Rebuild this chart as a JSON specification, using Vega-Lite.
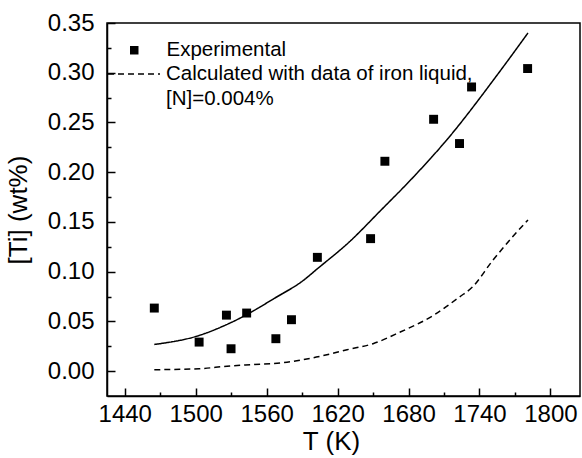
{
  "$schema": "https://vega.github.io/schema/vega-lite/v6.json",
  "width": 473,
  "height": 373,
  "autosize": {"type": "none"},
  "padding": {"left": 107, "top": 23, "right": 2, "bottom": 62},
  "background": "white",
  "config": {
    "view": {"stroke": "black", "strokeWidth": 1.5},
    "font": "Liberation Sans",
    "axis": {
      "labelFont": "Liberation Sans",
      "titleFont": "Liberation Sans",
      "labelColor": "black",
      "titleColor": "black",
      "titleFontWeight": "normal",
      "domainColor": "black",
      "tickColor": "black",
      "grid": false,
      "labelFontSize": 24,
      "titleFontSize": 26
    },
    "legend": {
      "labelFont": "Liberation Sans",
      "labelColor": "black",
      "labelFontSize": 20.5,
      "labelLimit": 600
    }
  },
  "datasets": {
    "exp": [
      {"T": 1465.0, "Ti": 0.0634, "kind": "Experimental"},
      {"T": 1502.9, "Ti": 0.0292, "kind": "Experimental"},
      {"T": 1526.0, "Ti": 0.0563, "kind": "Experimental"},
      {"T": 1529.9, "Ti": 0.0225, "kind": "Experimental"},
      {"T": 1543.1, "Ti": 0.0584, "kind": "Experimental"},
      {"T": 1567.8, "Ti": 0.0326, "kind": "Experimental"},
      {"T": 1581.0, "Ti": 0.0517, "kind": "Experimental"},
      {"T": 1602.9, "Ti": 0.1144, "kind": "Experimental"},
      {"T": 1647.9, "Ti": 0.1332, "kind": "Experimental"},
      {"T": 1660.0, "Ti": 0.2110, "kind": "Experimental"},
      {"T": 1701.2, "Ti": 0.2532, "kind": "Experimental"},
      {"T": 1723.1, "Ti": 0.2288, "kind": "Experimental"},
      {"T": 1733.3, "Ti": 0.2857, "kind": "Experimental"},
      {"T": 1780.7, "Ti": 0.3042, "kind": "Experimental"}
    ],
    "curves": [
      {"T": 1465, "Ti": 0.0268, "curve": "fit"},
      {"T": 1503, "Ti": 0.0359, "curve": "fit"},
      {"T": 1526, "Ti": 0.0467, "curve": "fit"},
      {"T": 1543, "Ti": 0.0567, "curve": "fit"},
      {"T": 1566, "Ti": 0.0728, "curve": "fit"},
      {"T": 1591, "Ti": 0.0912, "curve": "fit"},
      {"T": 1603, "Ti": 0.1030, "curve": "fit"},
      {"T": 1630, "Ti": 0.1300, "curve": "fit"},
      {"T": 1656, "Ti": 0.1610, "curve": "fit"},
      {"T": 1684, "Ti": 0.1950, "curve": "fit"},
      {"T": 1712, "Ti": 0.2320, "curve": "fit"},
      {"T": 1757, "Ti": 0.3010, "curve": "fit"},
      {"T": 1781, "Ti": 0.3400, "curve": "fit"},
      {"T": 1465, "Ti": 0.0014, "curve": "calc"},
      {"T": 1503, "Ti": 0.0024, "curve": "calc"},
      {"T": 1526.5, "Ti": 0.0050, "curve": "calc"},
      {"T": 1549, "Ti": 0.0067, "curve": "calc"},
      {"T": 1574, "Ti": 0.0085, "curve": "calc"},
      {"T": 1602, "Ti": 0.0141, "curve": "calc"},
      {"T": 1628, "Ti": 0.0215, "curve": "calc"},
      {"T": 1650, "Ti": 0.0276, "curve": "calc"},
      {"T": 1673, "Ti": 0.0393, "curve": "calc"},
      {"T": 1701, "Ti": 0.0560, "curve": "calc"},
      {"T": 1723, "Ti": 0.0745, "curve": "calc"},
      {"T": 1734, "Ti": 0.0845, "curve": "calc"},
      {"T": 1751, "Ti": 0.1110, "curve": "calc"},
      {"T": 1768, "Ti": 0.1350, "curve": "calc"},
      {"T": 1781, "Ti": 0.1520, "curve": "calc"}
    ]
  },
  "resolve": {"axis": {"x": "independent", "y": "independent"}},
  "layer": [
    {
      "data": {"name": "curves"},
      "mark": {"type": "line", "color": "black", "strokeWidth": 1.5, "interpolate": "monotone"},
      "encoding": {
        "x": {
          "field": "T",
          "type": "quantitative",
          "scale": {"domain": [1425, 1825], "nice": false, "zero": false},
          "axis": {
            "orient": "bottom",
            "title": "T (K)",
            "values": [1440, 1500, 1560, 1620, 1680, 1740, 1800],
            "format": "d",
            "tickSize": -8,
            "tickWidth": 1.5,
            "domainWidth": 1.5,
            "labelPadding": 14,
            "titlePadding": 2,
            "titleX": 224
          }
        },
        "y": {
          "field": "Ti",
          "type": "quantitative",
          "scale": {"domain": [-0.025, 0.35], "nice": false, "zero": false},
          "axis": {
            "orient": "left",
            "title": "[Ti] (wt%)",
            "values": [0, 0.05, 0.1, 0.15, 0.2, 0.25, 0.3, 0.35],
            "format": ".2f",
            "tickSize": -8,
            "tickWidth": 1.5,
            "domainWidth": 1.5,
            "labelPadding": 21,
            "titlePadding": 16
          }
        },
        "strokeDash": {
          "field": "curve",
          "type": "nominal",
          "scale": {"domain": ["fit", "calc"], "range": [[1, 0], [6, 4]]},
          "legend": {
            "values": ["calc"],
            "title": null,
            "orient": "none",
            "legendX": 0,
            "legendY": 24,
            "padding": 0,
            "symbolType": "stroke",
            "symbolSize": 2704,
            "symbolStrokeColor": "black",
            "symbolStrokeWidth": 1.3,
            "symbolDash": [6, 5],
            "labelOffset": 5,
            "labelExpr": "datum.label == 'calc' ? ['Calculated with data of iron liquid,', '[N]=0.004%'] : datum.label",
            "encode": {"labels": {"update": {"lineHeight": {"value": 25}}}}
          }
        }
      }
    },
    {
      "data": {"name": "exp"},
      "mark": {"type": "point", "shape": "square", "filled": true, "color": "black", "size": 80, "opacity": 1},
      "encoding": {
        "x": {
          "field": "T",
          "type": "quantitative",
          "axis": {
            "orient": "bottom",
            "title": null,
            "values": [1470, 1530, 1590, 1650, 1710, 1770],
            "labels": false,
            "domain": false,
            "tickSize": -4,
            "tickWidth": 1.5
          }
        },
        "y": {
          "field": "Ti",
          "type": "quantitative",
          "axis": {
            "orient": "left",
            "title": null,
            "values": [0.025, 0.075, 0.125, 0.175, 0.225, 0.275, 0.325],
            "labels": false,
            "domain": false,
            "tickSize": -4,
            "tickWidth": 1.5
          }
        },
        "shape": {
          "field": "kind",
          "type": "nominal",
          "scale": {"domain": ["Experimental"], "range": ["square"]},
          "legend": {
            "title": null,
            "orient": "none",
            "legendX": 17,
            "legendY": 17,
            "padding": 0,
            "symbolSize": 72,
            "symbolFillColor": "black",
            "symbolStrokeColor": "black",
            "symbolOpacity": 1,
            "labelOffset": 22
          }
        }
      }
    }
  ]
}
